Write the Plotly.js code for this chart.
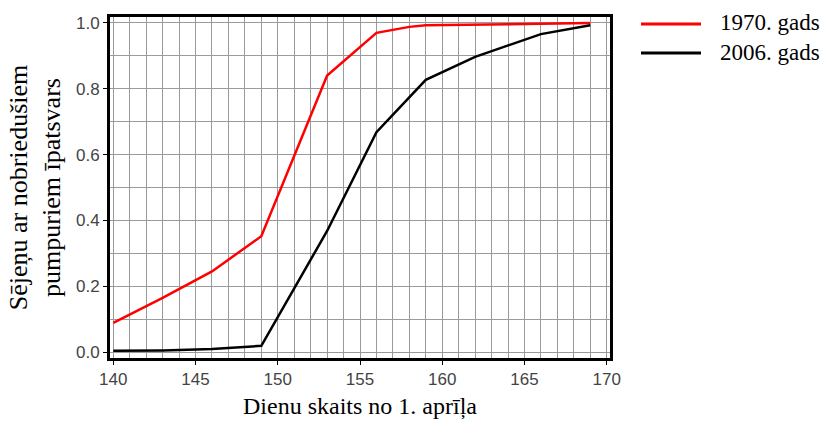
<!DOCTYPE html>
<html>
<head>
<meta charset="utf-8">
<script src="https://cdn.plot.ly/plotly-3.0.1.min.js"></script>
<style>html,body{margin:0;padding:0;background:#fff;}#chart{width:823px;height:422px;}</style>
</head>
<body>
<div id="chart"></div>
<script>
const days1970 = [140, 143, 146, 149, 153, 156, 158, 159, 164, 169];
const share1970 = [0.089, 0.165, 0.245, 0.352, 0.84, 0.97, 0.988, 0.993, 0.996, 1.0];
const days2006 = [140, 143, 146, 149, 153, 156, 159, 162, 166, 169];
const share2006 = [0.004, 0.005, 0.009, 0.019, 0.368, 0.668, 0.827, 0.897, 0.966, 0.993];
const seriesNames = ["1970. gads", "2006. gads"];
const seriesColors = ["#ff0000", "#000000"];
const xTitle = "Dienu skaits no 1. aprīļa";
const yTitle = "Sējeņu ar nobriedušiem<br>pumpuriem īpatsvars";

const serif = "Liberation Serif, Times New Roman, serif";
const sans = "Liberation Sans, Arial, sans-serif";

const traces = [
  {x: days1970, y: share1970, name: seriesNames[0], mode: "lines", line: {color: seriesColors[0], width: 2.5}},
  {x: days2006, y: share2006, name: seriesNames[1], mode: "lines", line: {color: seriesColors[1], width: 2.5}}
];

// legend drawn in paper coordinates (line sample + label per series)
const legendRowsY = [24, 53];
const shapes = [];
const annotations = [];
seriesNames.forEach((nm, i) => {
  shapes.push({type: "line", xref: "paper", yref: "paper",
    x0: (641 - 110) / 500, x1: (701 - 110) / 500,
    y0: (358 - legendRowsY[i]) / 341, y1: (358 - legendRowsY[i]) / 341,
    line: {color: seriesColors[i], width: 3}});
  annotations.push({xref: "paper", yref: "paper", x: (718 - 110) / 500, y: (358 - legendRowsY[i] + 1) / 341,
    xanchor: "left", yanchor: "middle", showarrow: false, text: nm,
    font: {family: serif, size: 23, color: "#000"}});
});

const layout = {
  width: 823, height: 422,
  margin: {l: 110, r: 213, t: 17, b: 64},
  paper_bgcolor: "#fff", plot_bgcolor: "#fff",
  showlegend: false,
  shapes: shapes,
  annotations: annotations,
  xaxis: {
    range: [139.8, 170.2], dtick: 5, tick0: 140,
    showgrid: true, gridcolor: "#9a9a9a", gridwidth: 1,
    minor: {dtick: 1, showgrid: true, gridcolor: "#9a9a9a", gridwidth: 1},
    showline: true, linecolor: "#000", linewidth: 3, mirror: true,
    ticks: "outside", ticklen: 4, tickcolor: "#000", tickwidth: 1,
    zeroline: false,
    tickfont: {family: sans, size: 17, color: "#444"},
    title: {text: xTitle, font: {family: serif, size: 24, color: "#000"}, standoff: 9}
  },
  yaxis: {
    range: [-0.018, 1.018], dtick: 0.2, tick0: 0, tickformat: ".1f",
    showgrid: true, gridcolor: "#9a9a9a", gridwidth: 1,
    minor: {dtick: 0.1, showgrid: true, gridcolor: "#9a9a9a", gridwidth: 1},
    showline: true, linecolor: "#000", linewidth: 3, mirror: true,
    ticks: "outside", ticklen: 4, tickcolor: "#000", tickwidth: 1,
    zeroline: false,
    tickfont: {family: sans, size: 17, color: "#444"},
    title: {text: yTitle, font: {family: serif, size: 26, color: "#000"}, standoff: 8}
  }
};

Plotly.newPlot("chart", traces, layout, {displayModeBar: false, staticPlot: true});
</script>
</body>
</html>
